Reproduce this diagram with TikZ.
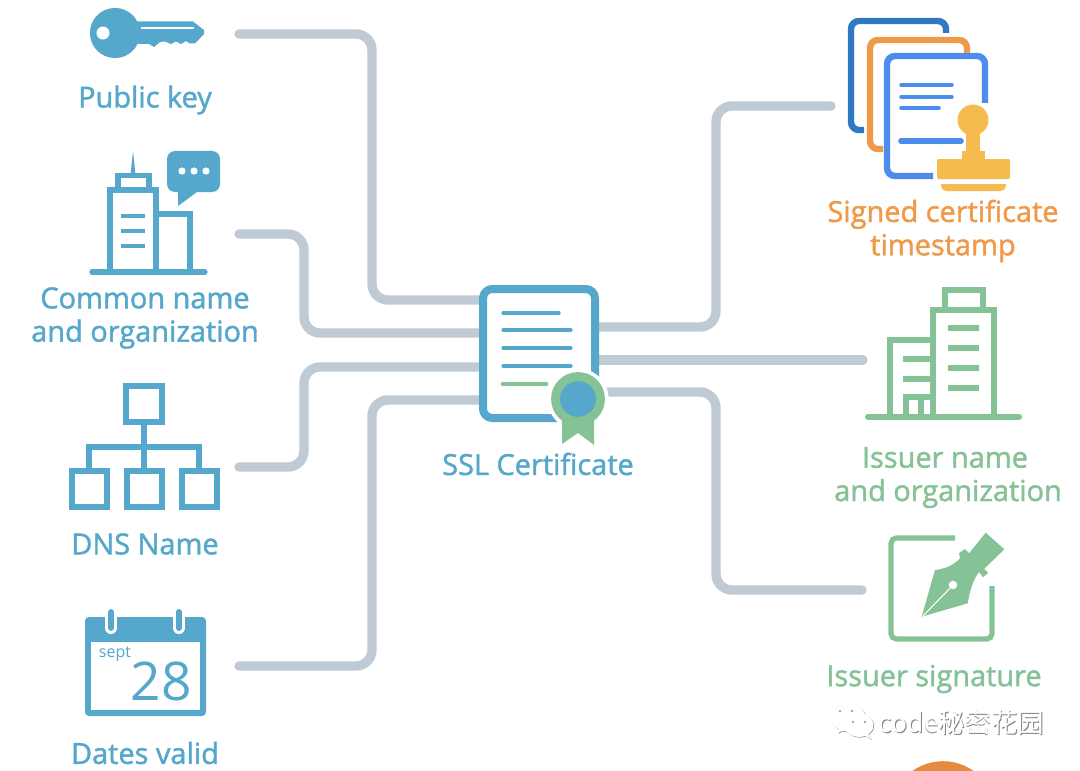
\documentclass[tikz,border=0pt]{standalone}
\usepackage{fontspec}
\setmainfont{Open Sans}
\newfontfamily\capface{Open Sans}[FakeBold=1.5]
\newfontfamily\cjkface{Noto Sans CJK SC}
\usetikzlibrary{backgrounds}
\definecolor{skyblue}{HTML}{55A7CB}
\definecolor{leaf}{HTML}{85C296}
\definecolor{linkgrey}{HTML}{BFCAD4}
\definecolor{tanger}{HTML}{EF9A48}
\definecolor{navy}{HTML}{2F78C4}
\definecolor{azure}{HTML}{4B8CEC}
\definecolor{stampy}{HTML}{F5BB4F}
\definecolor{sunset}{HTML}{E68A3E}
\tikzset{
  link/.style={draw=linkgrey,line width=7pt,line cap=round,rounded corners=12pt},
  caption/.style={font=\fontsize{21.7pt}{25pt}\capface,align=center,inner sep=0pt},
  wire/.style={line width=3.9pt},
  thinrule/.style={line width=2.5pt,line cap=round}
}
\begin{document}
\begin{tikzpicture}[x=0.75pt,y=-0.75pt]
\useasboundingbox (0,0) rectangle (1080,770);
\clip (0,0) rectangle (1080,770);

% central certificate
\node[draw=skyblue,fill=white,line width=6pt,rounded corners=7pt,minimum width=84pt,minimum height=96.75pt,inner sep=0pt] (cert) at (539,353.5) {};
\node[caption,text=skyblue] (certlabel) at (538,464) {SSL Certificate};

% free ends and ports of the connectors
\coordinate (keyend) at (239,34);
\coordinate (orgend) at (239,234);
\coordinate (dnsend) at (239,467);
\coordinate (dateend) at (239,666);
\coordinate (sctend) at (831,106);
\coordinate (issend) at (863,360);
\coordinate (sigend) at (862,590);
\coordinate (p1) at (480,300);
\coordinate (p2) at (480,333);
\coordinate (p3) at (480,367);
\coordinate (p4) at (480,400);
\coordinate (q1) at (598,327);
\coordinate (q2) at (598,360);
\coordinate (q3) at (598,392);

\begin{scope}[on background layer]
  \fill[white] (0,0) rectangle (1080,770);
  \draw[link] (keyend) -- (372,34) -- (372,300) -- (cert.west |- p1);
  \draw[link] (orgend) -- (304,234) -- (304,333) -- (cert.west |- p2);
  \draw[link] (dnsend) -- (304,467) -- (304,367) -- (cert.west |- p3);
  \draw[link] (dateend) -- (372,666) -- (372,400) -- (cert.west |- p4);
  \draw[link] (sctend) -- (716,106) -- (716,327) -- (cert.east |- q1);
  \draw[link] (issend) -- (cert.east |- q2);
  \draw[link] (sigend) -- (716,590) -- (716,392) -- (cert.east |- q3);
\end{scope}

% certificate text rules and seal
\draw[skyblue,thinrule] (503,313) -- (559,313);
\foreach \yy in {330,348,366} \draw[skyblue,thinrule] (503,\yy) -- (571,\yy);
\draw[leaf,line width=3.6pt,line cap=round] (503,384) -- (546,384);
\fill[white] (578,399) circle[radius=23pt];
\fill[leaf] (562,420) -- (562,444) -- (578,433) -- (594,445) -- (594,420) -- cycle;
\fill[leaf] (578,399) circle[radius=20.2pt];
\fill[skyblue] (578,399) circle[radius=13.4pt];

% key
\fill[skyblue] (115,33) circle[radius=18.8pt];
\fill[skyblue] (130,21.5) -- (193,21.5) -- (204,30) -- (204,34) -- (195,43.5) -- (190,43.5) -- (186,41) -- (181,44) -- (176,41.5) -- (171,44) -- (165,41.5) -- (160,42) -- (154,47) -- (149,44) -- (130,44) -- cycle;
\fill[white] (103,33) circle[radius=4.9pt];
\draw[white,line width=0.8pt] (141,28) -- (194,28);
\node[caption,text=skyblue] (keylabel) at (145,100) {Public key};

% office building with speech bubble
\draw[skyblue,wire,line cap=round] (92,272) -- (205,272);
\draw[skyblue,wire] (110,272) -- (110,190) -- (156,190) -- (156,272);
\draw[skyblue,wire] (156,214) -- (190,214) -- (190,272);
\draw[skyblue,wire] (118,190) -- (118,175.5) -- (149,175.5) -- (149,190);
\fill[skyblue] (133,151) -- (135.5,175) -- (130.5,175) -- cycle;
\foreach \yy in {216,231,246} \fill[skyblue] (121,\yy-2.2) rectangle (145,\yy+2.2);
\fill[skyblue,rounded corners=6pt] (167,151) rectangle (220,192);
\fill[skyblue] (178,188) -- (178,206) -- (197,192) -- (197,188) -- cycle;
\foreach \xx in {182,194,206} \fill[white] (\xx,171) circle[radius=2.7pt];
\node[caption,text=skyblue] (orglabel) at (145,318) {Common name\\and organization};

% DNS tree
\draw[skyblue,wire] (126,386) rectangle (162,422);
\draw[skyblue,wire] (144,422) -- (144,470);
\draw[skyblue,wire] (89,470) -- (89,447) -- (199,447) -- (199,470);
\draw[skyblue,wire] (72,471) rectangle (107,507);
\draw[skyblue,wire] (127,471) rectangle (162,507);
\draw[skyblue,wire] (182,471) rectangle (217,507);
\node[caption,text=skyblue] (dnslabel) at (145,544) {DNS Name};

% calendar
\fill[skyblue,rounded corners=3pt] (85,617) rectangle (206,716);
\fill[white] (91,642) rectangle (200,710);
\foreach \xx in {111,179} {
  \draw[white,line width=9pt,line cap=round] (\xx,614) -- (\xx,628);
  \draw[skyblue,line width=4.4pt,line cap=round] (\xx,612) -- (\xx,628);
}
\node[font=\fontsize{12pt}{12pt}\selectfont,text=skyblue,inner sep=0pt] (month) at (115,654) {sept};
\node[font=\fontsize{40pt}{40pt}\selectfont,text=skyblue,inner sep=0pt] (day) at (161,681) {28};
\node[caption,text=skyblue] (datelabel) at (145,753) {Dates valid};

% stacked documents and stamp
\begin{scope}[line width=4.8pt,rounded corners=6pt]
  \draw[navy] (946,33) -- (946,21) -- (851,21) -- (851,130) -- (864,130);
  \draw[tanger] (967,53) -- (967,40) -- (870,40) -- (870,149) -- (883,149);
  \draw[azure] (985,103) -- (985,56) -- (887,56) -- (887,176) -- (933,176);
\end{scope}
\foreach \yy in {85,97} \draw[azure,line width=2.6pt,line cap=round] (901,\yy) -- (952,\yy);
\draw[azure,line width=2.6pt,line cap=round] (901,108) -- (939,108);
\draw[azure,line width=4.2pt,line cap=round] (901,141) -- (961,141);
\fill[white] (973,120) circle[radius=13.5pt];
\fill[stampy] (973,120) circle[radius=11.6pt];
\fill[stampy] (966,128) rectangle (980,152);
\fill[stampy] (962,151) rectangle (985,161);
\fill[stampy,rounded corners=1pt] (937,159) rectangle (1010,179);
\fill[stampy] (941,184) -- (1006,184) [rounded corners=4pt] -- (1006,191) -- (941,191) [sharp corners] -- cycle;
\node[caption,text=tanger] (sctlabel) at (943,231) {Signed certificate\\timestamp};

% issuer building
\draw[leaf,line width=4.6pt,line cap=round] (868,417) -- (1019,417);
\begin{scope}[line width=4.8pt]
  \draw[leaf] (933,417) -- (933,310) -- (994,310) -- (994,417);
  \draw[leaf] (945,310) -- (945,290) -- (983,290) -- (983,310);
  \draw[leaf] (890,417) -- (890,340) -- (933,340);
\end{scope}
\foreach \yy in {328,348,368,388} \fill[leaf] (948,\yy-3) rectangle (979,\yy+3);
\foreach \yy in {359,379} \fill[leaf] (903,\yy-3) rectangle (933,\yy+3);
\begin{scope}[leaf,line width=4.8pt]
  \draw (906,417) -- (906,397) -- (933,397);
  \draw (921,397) -- (921,417);
\end{scope}
\node[caption,text=leaf] (isslabel) at (948,477.5) {Issuer name\hspace*{4.5pt}\\and organization};

% signature frame and pen nib
\draw[leaf,line width=3.9pt,rounded corners=4pt] (955,538) -- (891,538) -- (891,639) -- (992,639) -- (992,586);
\fill[leaf] (921.7,616.7) -- (935,570) .. controls (945,569) and (954,565) .. (960,558.3) -- (959,553) -- (965,549) -- (969,553.3) -- (985.7,532.7) -- (1004.3,549.3) -- (984,569) -- (988.3,572.7) -- (983,577.3) -- (979,572) .. controls (973,580) and (970,590) .. (967.7,603.3) -- cycle;
\draw[white,line width=0.8pt] (923,616) -- (953,585);
\fill[white] (953,585) circle[radius=3.2pt];
\node[caption,text=leaf] (siglabel) at (934,679) {Issuer signature};

% watermark
\foreach \dx/\col in {0.8/black!40,0/white} {
  \begin{scope}[shift={(\dx,\dx)}]
    \fill[\col] (840,724) -- (838,733) -- (849,727) -- cycle;
    \fill[\col] (866,731) -- (871,739) -- (860,733) -- cycle;
    \draw[draw=\col,line width=0.7pt,fill=white] (848,717) ellipse[x radius=12.5pt,y radius=10.5pt];
    \draw[draw=\col,line width=0.7pt,fill=white] (859,725) ellipse[x radius=10.5pt,y radius=8.5pt];
  \end{scope}
}
\foreach \xx/\yy in {840/711,852/711,853/722,865/722} \fill[black!45] (\xx,\yy) circle[radius=0.9pt];
\node[font=\fontsize{19.8pt}{20pt}\cjkface,text=black!50,inner sep=0pt] (markshade) at (962.4,723) {code秘密花园};
\node[font=\fontsize{19.8pt}{20pt}\cjkface,text=white,inner sep=0pt] (mark) at (961.6,722) {code秘密花园};

% orange disc at the lower edge
\fill[sunset] (943,814) circle[radius=39.6pt];
\end{tikzpicture}
\end{document}
